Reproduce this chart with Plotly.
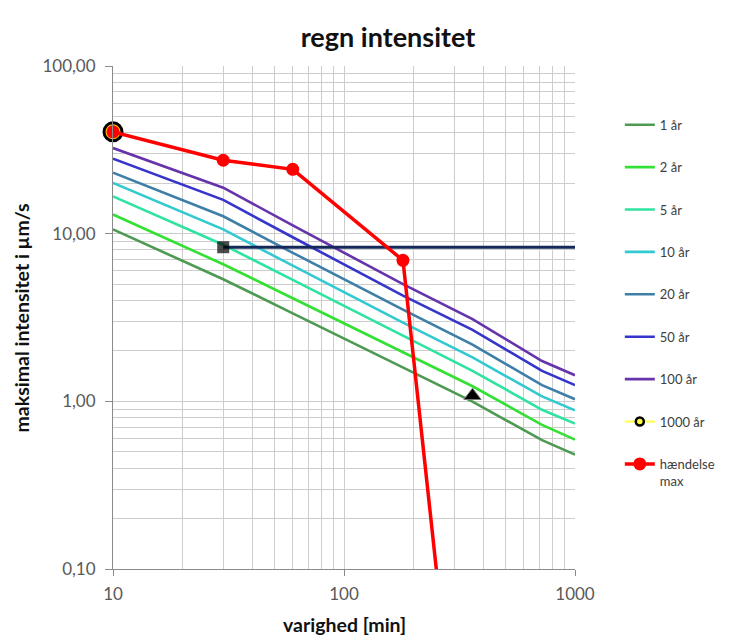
import plotly.graph_objects as go

# ---------------- data ----------------
durations = [10, 30, 60, 180, 360, 720, 1000]
idf_names = ["1 år", "2 år", "5 år", "10 år", "20 år", "50 år", "100 år"]
idf_1 = [10.6, 5.35, 3.35, 1.60, 0.995, 0.587, 0.481]
idf_2 = [13.0, 6.57, 4.12, 1.97, 1.23, 0.724, 0.591]
idf_5 = [16.7, 8.59, 5.30, 2.46, 1.52, 0.890, 0.736]
idf_10 = [20.1, 10.6, 6.44, 2.95, 1.83, 1.07, 0.884]
idf_20 = [23.1, 12.7, 7.69, 3.52, 2.18, 1.25, 1.03]
idf_50 = [28.0, 15.9, 9.52, 4.27, 2.67, 1.52, 1.25]
idf_100 = [32.4, 18.8, 11.2, 5.00, 3.09, 1.74, 1.43]
idf_values = [idf_1, idf_2, idf_5, idf_10, idf_20, idf_50, idf_100]

t_1000 = [10]
v_1000 = [40.5]

event_t = [10, 30, 60, 180, 360]
event_v = [40.5, 27.4, 24.2, 6.93, 0.001]

capacity_t = [30, 1000]
capacity_v = [8.3, 8.3]

triangle_t = [360]
triangle_v = [1.08]

x_tickvals = [10, 100, 1000]
x_ticktext = ["10", "100", "1000"]
y_tickvals = [0.1, 1, 10, 100]
y_ticktext = ["0,10", "1,00", "10,00", "100,00"]

# ---------------- styles ----------------
idf_colors = ["#4e9a52", "#33e033", "#2fe3a0", "#33c9d0", "#3e7fa8", "#3535cc", "#6634aa"]
FONT = "Lato"
GRID = "#cdcdcd"
TICKCOL = "#595959"

fig = go.Figure()

for name, vals, col in zip(idf_names, idf_values, idf_colors):
    fig.add_trace(go.Scatter(
        x=durations, y=vals, mode="lines", name=name,
        legendgroup=name,
        line=dict(color=col, width=2.6)))

# capacity line with square marker
fig.add_trace(go.Scatter(
    x=capacity_t, y=capacity_v, mode="lines+markers", showlegend=False,
    line=dict(color="#14295a", width=2.8),
    marker=dict(symbol="square", size=[12, 0], color="black",
                line=dict(width=0))))

# triangle marker
fig.add_trace(go.Scatter(
    x=triangle_t, y=triangle_v, mode="markers", showlegend=False,
    marker=dict(symbol="triangle-up", size=15, color="black",
                line=dict(color="#777777", width=1))))

# 1000 år - big marker (no legend) and legend entry
fig.add_trace(go.Scatter(
    x=t_1000, y=v_1000, mode="markers", showlegend=False, cliponaxis=False,
    marker=dict(symbol="circle", size=18, color="#ffcc00",
                line=dict(color="black", width=3))))
fig.add_trace(go.Scatter(
    x=t_1000, y=v_1000, mode="lines+markers", name="1000 år",
    legendgroup="1000 år", cliponaxis=False,
    line=dict(color="#ffff66", width=2.6),
    marker=dict(symbol="circle", size=8, color="#ffff44",
                line=dict(color="black", width=2.5))))

# hændelse max
fig.add_trace(go.Scatter(
    x=event_t, y=event_v, mode="lines+markers", name="hændelse<br>max",
    legendgroup="event", cliponaxis=False,
    line=dict(color="#ff0000", width=3.5),
    marker=dict(symbol="circle", size=13, color="#ff0000")))

minor_x = [m * 10 ** e for e in (1, 2) for m in range(2, 10)]
minor_y = [m * 10 ** e for e in (-1, 0, 1) for m in range(2, 10)]

fig.update_xaxes(
    type="log", range=[1, 3],
    tickvals=x_tickvals, ticktext=x_ticktext,
    tickfont=dict(family=FONT, size=17, color=TICKCOL),
    ticks="outside", ticklen=6, tickcolor="#8a8a8a",
    ticklabelstandoff=4,
    showgrid=True, gridcolor=GRID, gridwidth=1,
    minor=dict(tickvals=minor_x, showgrid=True, gridcolor=GRID, gridwidth=1, ticks=""),
    showline=True, linecolor="#8a8a8a", linewidth=1,
    zeroline=False, mirror=False)

fig.update_yaxes(
    type="log", range=[-1, 2],
    tickvals=y_tickvals, ticktext=y_ticktext,
    tickfont=dict(family=FONT, size=17, color=TICKCOL),
    ticks="outside", ticklen=7, tickcolor="#8a8a8a",
    ticklabelstandoff=6,
    showgrid=True, gridcolor=GRID, gridwidth=1,
    minor=dict(tickvals=minor_y, showgrid=True, gridcolor=GRID, gridwidth=1, ticks=""),
    showline=True, linecolor="#8a8a8a", linewidth=1,
    zeroline=False)

fig.update_layout(
    width=739, height=636,
    margin=dict(l=113, r=164, t=66, b=67),
    plot_bgcolor="white", paper_bgcolor="white",
    font=dict(family=FONT, color="#404040"),
    title=dict(text="<b>regn intensitet</b>", x=388 / 739, xanchor="center",
               y=1 - 38 / 636, yanchor="middle", xref="container",
               yref="container",
               font=dict(family=FONT, size=27, color="#111111")),
    legend=dict(x=1.097, xanchor="left", y=0.913, yanchor="top",
                font=dict(family=FONT, size=13, color="#404040"),
                traceorder="grouped", tracegroupgap=22.5, valign="top",
                bgcolor="rgba(0,0,0,0)", itemwidth=30),
    annotations=[
        dict(text="<b>varighed [min]</b>", x=0.502, y=-0.111, xref="paper", yref="paper",
             xanchor="center", yanchor="middle", showarrow=False,
             font=dict(family=FONT, size=19.5, color="#111111")),
        dict(text="<b>maksimal intensitet i µm/s</b>", x=-0.197, y=0.5, xref="paper", yref="paper",
             xanchor="center", yanchor="middle", showarrow=False, textangle=-90,
             font=dict(family=FONT, size=19.5, color="#111111")),
    ],
)

fig.write_html("out.html")
